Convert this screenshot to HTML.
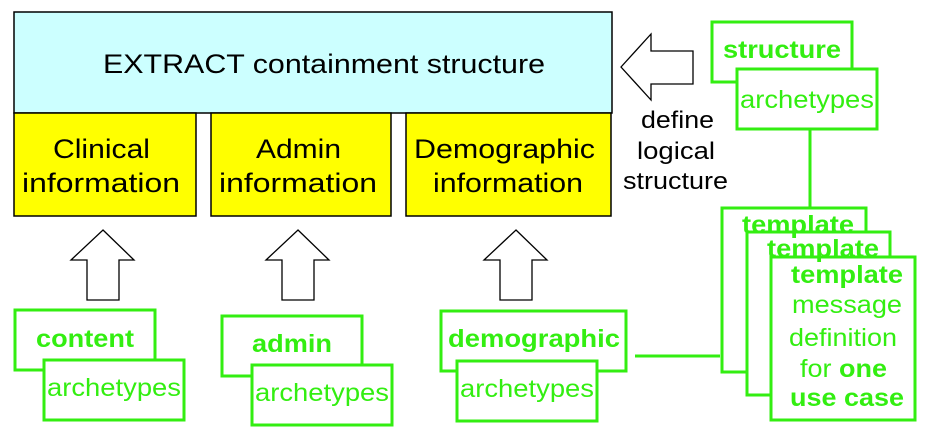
<!DOCTYPE html>
<html><head><style>body{margin:0;background:#fff}svg{display:block}</style></head><body>
<svg width="930" height="443" xmlns="http://www.w3.org/2000/svg" font-family="Liberation Sans, sans-serif">
<rect x="14" y="12" width="598" height="101" fill="#ccffff" stroke="#000" stroke-width="1.5"/>
<text x="103" y="73" font-size="27" textLength="442" lengthAdjust="spacingAndGlyphs">EXTRACT containment structure</text>
<g fill="#ffff00" stroke="#000" stroke-width="1.5">
<rect x="14" y="113" width="182" height="103"/><rect x="211" y="113" width="180" height="103"/><rect x="406" y="113" width="205" height="103"/></g>
<g font-size="27" lengthAdjust="spacingAndGlyphs">
<text x="53" y="158" textLength="97" lengthAdjust="spacingAndGlyphs">Clinical</text><text x="22" y="192" textLength="158" lengthAdjust="spacingAndGlyphs">information</text>
<text x="256" y="158" textLength="85" lengthAdjust="spacingAndGlyphs">Admin</text><text x="219" y="192" textLength="158" lengthAdjust="spacingAndGlyphs">information</text>
<text x="414" y="158" textLength="181" lengthAdjust="spacingAndGlyphs">Demographic</text><text x="433" y="192" textLength="150" lengthAdjust="spacingAndGlyphs">information</text></g>
<g fill="#fff" stroke="#000" stroke-width="1.3">
<polygon points="103,230 134,260 119,260 119,300 87,300 87,260 71,260"/>
<polygon points="298,230 329,260 314,260 314,300 282,300 282,260 266,260"/>
<polygon points="516,230 547,260 532,260 532,300 500,300 500,260 484,260"/>
<polygon points="621,67 651,34 651,51 693,51 693,84 651,84 651,100"/></g>
<g font-size="24"><text x="641" y="128" textLength="73" lengthAdjust="spacingAndGlyphs">define</text><text x="637" y="159" textLength="78" lengthAdjust="spacingAndGlyphs">logical</text><text x="623" y="189" textLength="105" lengthAdjust="spacingAndGlyphs">structure</text></g>
<g stroke="#33ee11" stroke-width="3" fill="#fff">
<line x1="810" y1="129" x2="810" y2="208"/>
<line x1="635" y1="356" x2="720" y2="356"/>
<rect x="712" y="22" width="140" height="60"/><rect x="737" y="69" width="140" height="60"/>
<rect x="722" y="208" width="144" height="164"/><rect x="747" y="232" width="143" height="163"/><rect x="771" y="257" width="144" height="163"/>
<rect x="15" y="310" width="140" height="60"/><rect x="44" y="360" width="140" height="60"/>
<rect x="222" y="316" width="140" height="60"/><rect x="252" y="365" width="140" height="60"/>
<rect x="441" y="311" width="185" height="60"/><rect x="457" y="361" width="140" height="60"/></g>
<g fill="#33ee11" font-size="25">
<text x="723" y="58" font-weight="bold" textLength="118" lengthAdjust="spacingAndGlyphs">structure</text><text x="740" y="108" textLength="134" lengthAdjust="spacingAndGlyphs">archetypes</text>
<text x="742" y="233" font-weight="bold" textLength="112" lengthAdjust="spacingAndGlyphs">template</text><text x="767" y="257" font-weight="bold" textLength="112" lengthAdjust="spacingAndGlyphs">template</text>
<text x="791" y="283" font-weight="bold" textLength="112" lengthAdjust="spacingAndGlyphs">template</text><text x="792" y="313" textLength="110" lengthAdjust="spacingAndGlyphs">message</text><text x="789" y="346" textLength="108" lengthAdjust="spacingAndGlyphs">definition</text>
<text x="800" y="377" textLength="87" lengthAdjust="spacingAndGlyphs">for <tspan font-weight="bold">one</tspan></text><text x="790" y="406" font-weight="bold" textLength="114" lengthAdjust="spacingAndGlyphs">use case</text>
<text x="36" y="347" font-weight="bold" textLength="98" lengthAdjust="spacingAndGlyphs">content</text><text x="47" y="396" textLength="134" lengthAdjust="spacingAndGlyphs">archetypes</text>
<text x="252" y="352" font-weight="bold" textLength="80" lengthAdjust="spacingAndGlyphs">admin</text><text x="255" y="401" textLength="134" lengthAdjust="spacingAndGlyphs">archetypes</text>
<text x="448" y="347" font-weight="bold" textLength="172" lengthAdjust="spacingAndGlyphs">demographic</text><text x="460" y="397" textLength="134" lengthAdjust="spacingAndGlyphs">archetypes</text></g>
</svg></body></html>
